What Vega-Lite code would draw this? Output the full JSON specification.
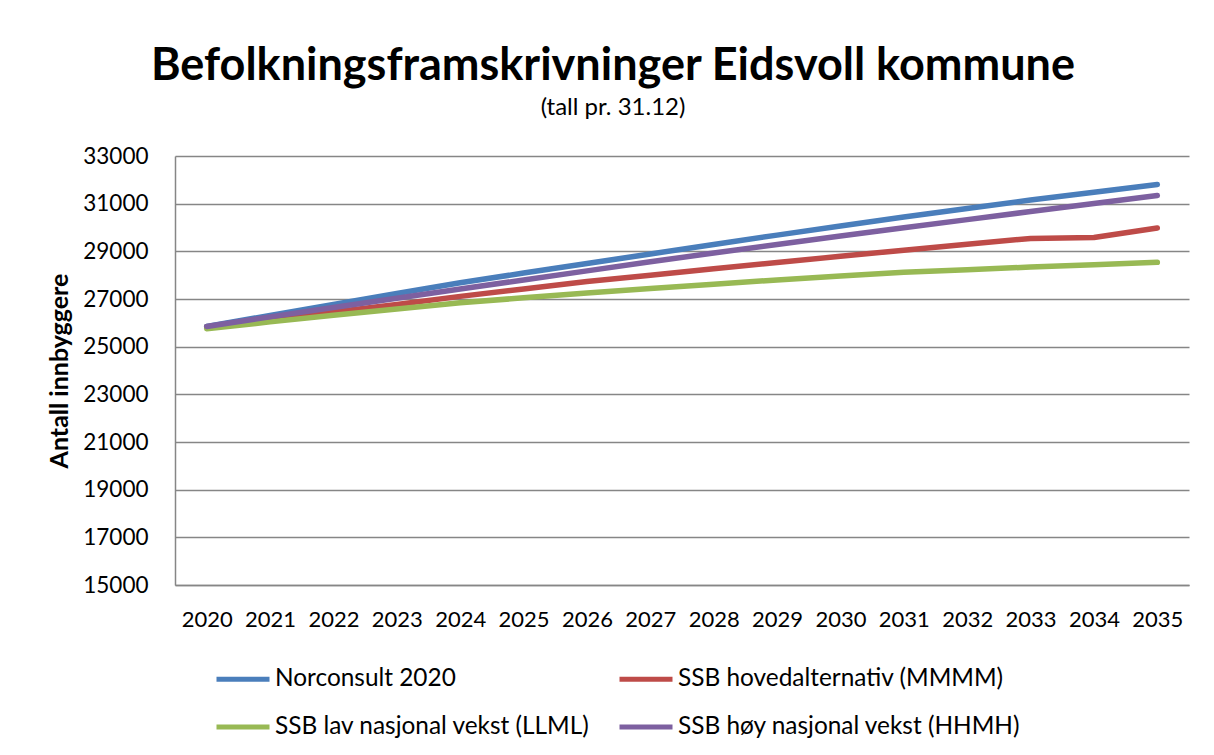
{
  "$schema": "https://vega.github.io/schema/vega-lite/v6.json",
  "width": 1014,
  "height": 429,
  "autosize": "none",
  "padding": {"left": 175, "top": 156, "right": 25, "bottom": 170},
  "background": "white",
  "title": {
    "text": "Befolkningsframskrivninger Eidsvoll kommune",
    "subtitle": "(tall pr. 31.12)",
    "anchor": "middle",
    "frame": "group",
    "dx": -69,
    "offset": 25,
    "font": "Lato",
    "fontSize": 45,
    "fontWeight": "bold",
    "color": "black",
    "subtitleFont": "Lato",
    "subtitleFontSize": 24,
    "subtitleColor": "black",
    "subtitlePadding": 7
  },
  "data": {
    "values": [
      {"year": "2020", "series": "Norconsult 2020", "value": 25850},
      {"year": "2021", "series": "Norconsult 2020", "value": 26310},
      {"year": "2022", "series": "Norconsult 2020", "value": 26770},
      {"year": "2023", "series": "Norconsult 2020", "value": 27230},
      {"year": "2024", "series": "Norconsult 2020", "value": 27680},
      {"year": "2025", "series": "Norconsult 2020", "value": 28090},
      {"year": "2026", "series": "Norconsult 2020", "value": 28490},
      {"year": "2027", "series": "Norconsult 2020", "value": 28890},
      {"year": "2028", "series": "Norconsult 2020", "value": 29290},
      {"year": "2029", "series": "Norconsult 2020", "value": 29680},
      {"year": "2030", "series": "Norconsult 2020", "value": 30060},
      {"year": "2031", "series": "Norconsult 2020", "value": 30440},
      {"year": "2032", "series": "Norconsult 2020", "value": 30800},
      {"year": "2033", "series": "Norconsult 2020", "value": 31150},
      {"year": "2034", "series": "Norconsult 2020", "value": 31480},
      {"year": "2035", "series": "Norconsult 2020", "value": 31800},
      {"year": "2020", "series": "SSB hovedalternativ (MMMM)", "value": 25830},
      {"year": "2021", "series": "SSB hovedalternativ (MMMM)", "value": 26150},
      {"year": "2022", "series": "SSB hovedalternativ (MMMM)", "value": 26460},
      {"year": "2023", "series": "SSB hovedalternativ (MMMM)", "value": 26770},
      {"year": "2024", "series": "SSB hovedalternativ (MMMM)", "value": 27110},
      {"year": "2025", "series": "SSB hovedalternativ (MMMM)", "value": 27420},
      {"year": "2026", "series": "SSB hovedalternativ (MMMM)", "value": 27730},
      {"year": "2027", "series": "SSB hovedalternativ (MMMM)", "value": 28000},
      {"year": "2028", "series": "SSB hovedalternativ (MMMM)", "value": 28270},
      {"year": "2029", "series": "SSB hovedalternativ (MMMM)", "value": 28530},
      {"year": "2030", "series": "SSB hovedalternativ (MMMM)", "value": 28790},
      {"year": "2031", "series": "SSB hovedalternativ (MMMM)", "value": 29050},
      {"year": "2032", "series": "SSB hovedalternativ (MMMM)", "value": 29300},
      {"year": "2033", "series": "SSB hovedalternativ (MMMM)", "value": 29540},
      {"year": "2034", "series": "SSB hovedalternativ (MMMM)", "value": 29580},
      {"year": "2035", "series": "SSB hovedalternativ (MMMM)", "value": 29980},
      {"year": "2020", "series": "SSB lav nasjonal vekst (LLML)", "value": 25750},
      {"year": "2021", "series": "SSB lav nasjonal vekst (LLML)", "value": 26040},
      {"year": "2022", "series": "SSB lav nasjonal vekst (LLML)", "value": 26320},
      {"year": "2023", "series": "SSB lav nasjonal vekst (LLML)", "value": 26580},
      {"year": "2024", "series": "SSB lav nasjonal vekst (LLML)", "value": 26840},
      {"year": "2025", "series": "SSB lav nasjonal vekst (LLML)", "value": 27050},
      {"year": "2026", "series": "SSB lav nasjonal vekst (LLML)", "value": 27250},
      {"year": "2027", "series": "SSB lav nasjonal vekst (LLML)", "value": 27440},
      {"year": "2028", "series": "SSB lav nasjonal vekst (LLML)", "value": 27620},
      {"year": "2029", "series": "SSB lav nasjonal vekst (LLML)", "value": 27800},
      {"year": "2030", "series": "SSB lav nasjonal vekst (LLML)", "value": 27970},
      {"year": "2031", "series": "SSB lav nasjonal vekst (LLML)", "value": 28120},
      {"year": "2032", "series": "SSB lav nasjonal vekst (LLML)", "value": 28230},
      {"year": "2033", "series": "SSB lav nasjonal vekst (LLML)", "value": 28340},
      {"year": "2034", "series": "SSB lav nasjonal vekst (LLML)", "value": 28440},
      {"year": "2035", "series": "SSB lav nasjonal vekst (LLML)", "value": 28540},
      {"year": "2020", "series": "SSB høy nasjonal vekst (HHMH)", "value": 25850},
      {"year": "2021", "series": "SSB høy nasjonal vekst (HHMH)", "value": 26250},
      {"year": "2022", "series": "SSB høy nasjonal vekst (HHMH)", "value": 26640},
      {"year": "2023", "series": "SSB høy nasjonal vekst (HHMH)", "value": 27030},
      {"year": "2024", "series": "SSB høy nasjonal vekst (HHMH)", "value": 27420},
      {"year": "2025", "series": "SSB høy nasjonal vekst (HHMH)", "value": 27800},
      {"year": "2026", "series": "SSB høy nasjonal vekst (HHMH)", "value": 28180},
      {"year": "2027", "series": "SSB høy nasjonal vekst (HHMH)", "value": 28560},
      {"year": "2028", "series": "SSB høy nasjonal vekst (HHMH)", "value": 28930},
      {"year": "2029", "series": "SSB høy nasjonal vekst (HHMH)", "value": 29290},
      {"year": "2030", "series": "SSB høy nasjonal vekst (HHMH)", "value": 29640},
      {"year": "2031", "series": "SSB høy nasjonal vekst (HHMH)", "value": 29990},
      {"year": "2032", "series": "SSB høy nasjonal vekst (HHMH)", "value": 30330},
      {"year": "2033", "series": "SSB høy nasjonal vekst (HHMH)", "value": 30670},
      {"year": "2034", "series": "SSB høy nasjonal vekst (HHMH)", "value": 31010},
      {"year": "2035", "series": "SSB høy nasjonal vekst (HHMH)", "value": 31340}
    ]
  },
  "mark": {"type": "line", "strokeWidth": 5.5, "strokeCap": "round", "strokeJoin": "round"},
  "encoding": {
    "x": {
      "field": "year",
      "type": "ordinal",
      "scale": {"type": "point", "padding": 0.5},
      "axis": {
        "title": null,
        "labelAngle": 0,
        "labelFont": "Lato",
        "labelFontSize": 22,
        "labelColor": "black",
        "labelPadding": 24,
        "ticks": false,
        "domainColor": "#868686",
        "domainWidth": 1.5,
        "grid": false
      }
    },
    "y": {
      "field": "value",
      "type": "quantitative",
      "scale": {"domain": [15000, 33000], "nice": false, "zero": false},
      "axis": {
        "title": "Antall innbyggere",
        "titleFont": "Lato",
        "titleFontSize": 25,
        "titleFontWeight": "bold",
        "titleColor": "black",
        "titlePadding": 10,
        "values": [15000, 17000, 19000, 21000, 23000, 25000, 27000, 29000, 31000, 33000],
        "format": "d",
        "labelFont": "Lato",
        "labelFontSize": 22.5,
        "labelColor": "black",
        "labelPadding": 27,
        "ticks": false,
        "domainColor": "#868686",
        "domainWidth": 1.5,
        "grid": true,
        "gridColor": "#868686",
        "gridWidth": 1.5
      }
    },
    "color": {
      "field": "series",
      "type": "nominal",
      "scale": {
        "domain": ["Norconsult 2020", "SSB hovedalternativ (MMMM)", "SSB lav nasjonal vekst (LLML)", "SSB høy nasjonal vekst (HHMH)"],
        "range": ["#4A7EBB", "#BE4B48", "#98B954", "#7D60A0"]
      },
      "legend": {
        "title": null,
        "orient": "none",
        "legendX": 39,
        "legendY": 494,
        "direction": "horizontal",
        "columns": 2,
        "columnPadding": 19,
        "rowPadding": 7,
        "symbolType": "stroke",
        "symbolSize": 2809,
        "symbolStrokeWidth": 5,
        "labelFont": "Lato",
        "labelFontSize": 24.4,
        "labelColor": "black",
        "labelOffset": 3,
        "labelLimit": 500
      }
    }
  },
  "config": {"view": {"stroke": null}}
}
